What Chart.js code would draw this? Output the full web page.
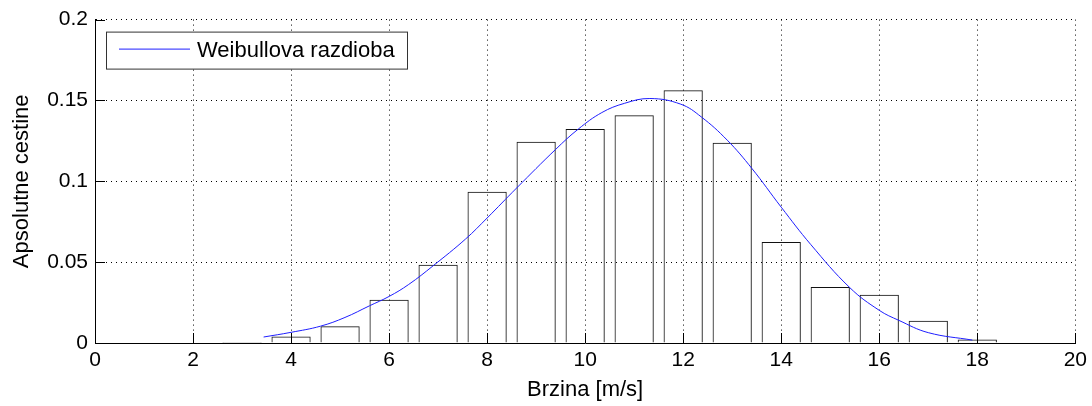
<!DOCTYPE html>
<html lang="hr">

<head>
  <meta charset="UTF-8">
  <title>Weibullova razdioba</title>
  <script src="https://cdn.jsdelivr.net/npm/chart.js@4.4.1/dist/chart.umd.min.js"></script>
  <style>
    * {
      box-sizing: border-box;
      margin: 0;
      padding: 0;
    }

    body {
      background: #fff;
    }

    #box {
      width: 1092px;
      height: 406px;
      position: relative;
    }
  </style>
</head>

<body>
  <div id="box"><canvas id="myChart"></canvas></div>

  <script>
    // histogram bins (speed, m/s) and relative frequencies
    const binCenters = [3, 4, 5, 6, 7, 8, 9, 10, 11, 12, 13, 14, 15, 16, 17, 18];
    const binValues = [0.0006, 0.0040, 0.0103, 0.0268, 0.0484, 0.0935, 0.1245, 0.1323, 0.1409, 0.1563, 0.1238, 0.0625, 0.0346, 0.0299, 0.0138, 0.0021];

    // fitted curve
    const weibullX = [3.44, 4.0, 4.6, 5.1, 5.6, 6.0, 6.4, 6.9, 7.56, 8.0, 8.6, 9.4, 9.86, 10.34, 10.8, 11.32, 11.95, 12.37, 12.9, 13.4, 14.0, 14.6, 15.4, 16.0, 16.4, 17.0, 17.9];
    const weibullY = [0.0037, 0.0066, 0.0104, 0.0158, 0.0230, 0.0288, 0.0362, 0.0478, 0.0643, 0.0773, 0.0958, 0.1198, 0.1323, 0.1425, 0.1482, 0.1512, 0.1477, 0.1398, 0.1254, 0.1080, 0.0840, 0.0610, 0.0342, 0.0202, 0.0140, 0.0064, 0.0018];

    const xTicks = [0, 2, 4, 6, 8, 10, 12, 14, 16, 18, 20];
    const yTicks = [0, 0.05, 0.1, 0.15, 0.2];

    const FONT = '"Liberation Sans", Arial, Helvetica, sans-serif';
    Chart.defaults.font.family = FONT;
    Chart.defaults.color = '#000';

    // matlab style: short tick marks pointing into the axes + boxed legend
    const matlabBits = {
      id: 'matlabBits',
      afterDraw(chart) {
        const { ctx, chartArea: a, scales } = chart;
        ctx.save();
        ctx.strokeStyle = '#000';
        ctx.lineWidth = 1;
        ctx.beginPath();
        xTicks.forEach(v => {
          const px = Math.round(scales.x.getPixelForValue(v)) + 0.5;
          ctx.moveTo(px, a.bottom);
          ctx.lineTo(px, a.bottom - 10);
        });
        yTicks.forEach(v => {
          const py = Math.round(scales.y.getPixelForValue(v)) + 0.5;
          ctx.moveTo(a.left, py);
          ctx.lineTo(a.left + 10, py);
        });
        ctx.stroke();

        // legend
        const ds = chart.data.datasets[1];
        const lx = a.left + 11, ly = a.top + 12, lw = 301, lh = 37;
        ctx.fillStyle = '#fff';
        ctx.fillRect(lx, ly, lw, lh);
        ctx.strokeStyle = '#333';
        ctx.strokeRect(lx + 0.5, ly + 0.5, lw, lh);
        ctx.strokeStyle = ds.borderColor;
        ctx.beginPath();
        ctx.moveTo(lx + 13, ly + 17.5);
        ctx.lineTo(lx + 84, ly + 17.5);
        ctx.stroke();
        ctx.fillStyle = '#000';
        ctx.font = '22px ' + FONT;
        ctx.textBaseline = 'middle';
        ctx.fillText(ds.label, lx + 91, ly + 19);
        ctx.restore();
      }
    };

    const ctx = document.getElementById('myChart').getContext('2d');

    new Chart(ctx, {
      type: 'bar',
      data: {
        datasets: [
          {
            type: 'bar',
            label: 'Histogram',
            data: binCenters.map((x, i) => ({ x: x, y: binValues[i] })),
            backgroundColor: 'rgba(0,0,0,0)',
            borderColor: '#111',
            borderWidth: 1,
            barPercentage: 0.8,
            categoryPercentage: 1,
            order: 2
          },
          {
            type: 'line',
            label: 'Weibullova razdioba',
            data: weibullX.map((x, i) => ({ x: x, y: weibullY[i] })),
            borderColor: 'rgb(30,30,255)',
            borderWidth: 1,
            pointRadius: 0,
            fill: false,
            tension: 0.4,
            order: 1
          }
        ]
      },
      options: {
        responsive: true,
        maintainAspectRatio: false,
        animation: false,
        layout: { padding: { left: 0, top: 18, right: 15, bottom: 0 } },
        plugins: {
          legend: { display: false },
          tooltip: { enabled: false }
        },
        scales: {
          x: {
            type: 'linear',
            offset: false,
            min: 0,
            max: 20,
            afterBuildTicks: s => { s.ticks = xTicks.map(v => ({ value: v })); },
            afterFit: s => { s.height = 63; },
            ticks: { font: { size: 21 }, padding: 5, maxRotation: 0 },
            grid: { color: '#000', drawTicks: false, offset: false },
            border: { display: true, color: '#000', width: 1, dash: [1, 4] },
            title: { display: true, text: 'Brzina [m/s]', font: { size: 22 }, padding: { top: 0, bottom: 3 } }
          },
          y: {
            type: 'linear',
            min: 0,
            max: 0.2,
            afterBuildTicks: s => { s.ticks = yTicks.map(v => ({ value: v })); },
            afterFit: s => { s.width = 95; },
            ticks: {
              font: { size: 21 },
              padding: 7,
              callback: v => String(+v.toFixed(2))
            },
            grid: { color: '#000', drawTicks: false },
            border: { display: true, color: '#000', width: 1, dash: [1, 4] },
            title: { display: true, text: 'Apsolutne cestine', font: { size: 22 }, padding: { top: 9, bottom: 0 } }
          }
        }
      },
      plugins: [matlabBits]
    });
  </script>
</body>

</html>
